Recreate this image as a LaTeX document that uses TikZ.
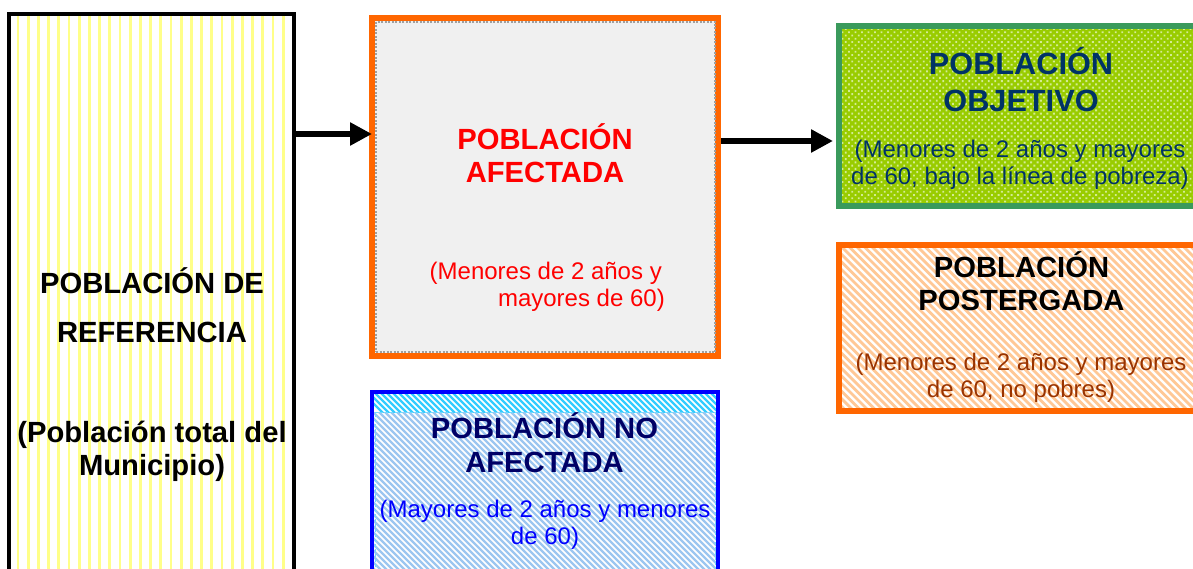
\documentclass[tikz,border=0pt]{standalone}
\usepackage{fontspec}
\setmainfont{Liberation Sans}
\usetikzlibrary{patterns.meta,arrows.meta}
\definecolor{orng}{HTML}{FF6600}
\definecolor{grnb}{HTML}{3A9A5C}
\definecolor{lime}{HTML}{99CC00}
\definecolor{limedot}{HTML}{D4EC94}
\definecolor{ylw}{HTML}{FFFF88}
\definecolor{pch}{HTML}{FFC896}
\definecolor{lblue}{HTML}{9CC6F0}
\definecolor{cyanb}{HTML}{33CCFF}
\definecolor{navy}{HTML}{003366}
\definecolor{dnavy}{HTML}{000066}
\definecolor{brwn}{HTML}{993300}
\definecolor{gbg}{HTML}{F0F0F0}
\tikzset{
  box/.style={rectangle, inner sep=0pt, outer sep=0pt},
  ttl/.style={inner sep=0pt, anchor=base, font=\fontsize{29.2}{33}\selectfont\bfseries},
  ttlb/.style={inner sep=0pt, anchor=base, font=\fontsize{30.7}{35}\selectfont\bfseries},
  bdy/.style={inner sep=0pt, anchor=base, font=\fontsize{24}{27}\selectfont},
  fatarrow/.style={line width=6pt, -{Triangle[length=22pt,width=22pt]}}
}
\begin{document}
\begin{tikzpicture}[x=1pt,y=-1pt]
\clip (0,0) rectangle (1193,569);
\useasboundingbox (0,0) rectangle (1193,569);
\fill[white] (0,0) rectangle (1193,569);

% ---------- Box 1: reference population
\node[box, fill=white, minimum width=285pt, minimum height=566pt] (ref) at (151.5,297) {};
\begin{scope}
  \clip (11,16) rectangle (292,569);
  \foreach \k in {0,...,28} {
    \draw[ylw, line width=2.8pt] (18+10.2*\k,10) -- (18+10.2*\k,580);
  }
\end{scope}
\draw[black, line width=4pt] (ref.north west) rectangle (ref.south east);
\node[ttl] (ref1) at (152,293) {POBLACIÓN DE};
\node[ttl] (ref2) at (152,342) {REFERENCIA};
\node[ttl] (ref3) at (152,442) {(Población total del};
\node[ttl] (ref4) at (152,475) {Municipio)};

% ---------- Box 2: affected population
\node[box, draw=orng, line width=6pt, fill=gbg, minimum width=346pt, minimum height=338pt]
  (afe) at (545,187) {};
\node[box, draw=gray!75, line width=1.4pt, dash pattern=on 2pt off 1.5pt, minimum width=339pt, minimum height=330pt]
  (afein) at (545.5,187) {};
\node[ttl, text=red] (afe1) at (545,150) {POBLACIÓN};
\node[ttl, text=red] (afe2) at (545,183) {AFECTADA};
\node[bdy, text=red, anchor=base east] (afe3) at (662,279) {(Menores de 2 años y};
\node[bdy, text=red, anchor=base east] (afe4) at (665,306) {mayores de 60)};

% ---------- Box 3: objective population
\node[box, draw=grnb, line width=5.5pt, minimum width=361pt, minimum height=180pt,
  preaction={fill=lime}, pattern={Dots[radius=1.3pt,distance=4.6pt,angle=45]}, pattern color=limedot]
  (obj) at (1019.5,116) {};
\draw[grnb, line width=5.5pt] (obj.north west) rectangle (obj.south east);
\node[ttlb, text=navy] (obj1) at (1021,75) {POBLACIÓN};
\node[ttlb, text=navy] (obj2) at (1021,112) {OBJETIVO};
\node[bdy, text=navy] (obj3) at (1020,158) {(Menores de 2 años y mayores};
\node[bdy, text=navy] (obj4) at (1020,185) {de 60, bajo la línea de pobreza)};

% ---------- Box 4: postponed population
\node[box, fill=white, minimum width=361pt, minimum height=166pt] (pos) at (1019.5,328) {};
\begin{scope}
  \clip (841,247) rectangle (1200,409);
  \foreach \k in {0,...,70} {
    \draw[pch, line width=2.8pt] (660+7.6*\k,240) -- (660+7.6*\k+180,420);
  }
\end{scope}
\draw[orng, line width=5.5pt] (pos.north west) rectangle (pos.south east);
\node[ttl, text=black] (pos1) at (1021.5,277) {POBLACIÓN};
\node[ttl, text=black] (pos2) at (1021.5,310) {POSTERGADA};
\node[bdy, text=brwn] (pos3) at (1021,370) {(Menores de 2 años y mayores};
\node[bdy, text=brwn] (pos4) at (1021,397) {de 60, no pobres)};

% ---------- Box 5: non-affected population
\node[box, fill=white, minimum width=346pt, minimum height=208pt] (noa) at (545,496) {};
\begin{scope}
  \clip (374,394) rectangle (716,412);
  \foreach \k in {0,...,70} {
    \draw[cyanb, line width=2.4pt] (350+6*\k,380) -- (350+6*\k+40,420);
  }
\end{scope}
\begin{scope}
  \clip (374,412) rectangle (716,600);
  \foreach \k in {0,...,90} {
    \draw[lblue, line width=2.4pt] (180+6*\k,405) -- (180+6*\k+200,605);
  }
\end{scope}
\node[box, draw=cyanb!70, line width=1pt, dash pattern=on 3pt off 2pt, minimum width=340pt, minimum height=188pt]
  (noain) at (545,506) {};
\draw[blue, line width=4pt] (noa.north west) rectangle (noa.south east);
\node[ttl, text=dnavy] (noa1) at (544.5,438) {POBLACIÓN NO};
\node[ttl, text=dnavy] (noa2) at (544.5,472) {AFECTADA};
\node[bdy, text=blue] (noa3) at (545,517) {(Mayores de 2 años y menores};
\node[bdy, text=blue] (noa4) at (545,544) {de 60)};

% ---------- Arrows
\draw[fatarrow] (ref.east |- 0,134) -- (afe.west |- 0,134);
\draw[fatarrow, shorten >=6pt] ([xshift=3pt]afe.east |- 0,141) -- (obj.west |- 0,141);
\end{tikzpicture}
\end{document}
